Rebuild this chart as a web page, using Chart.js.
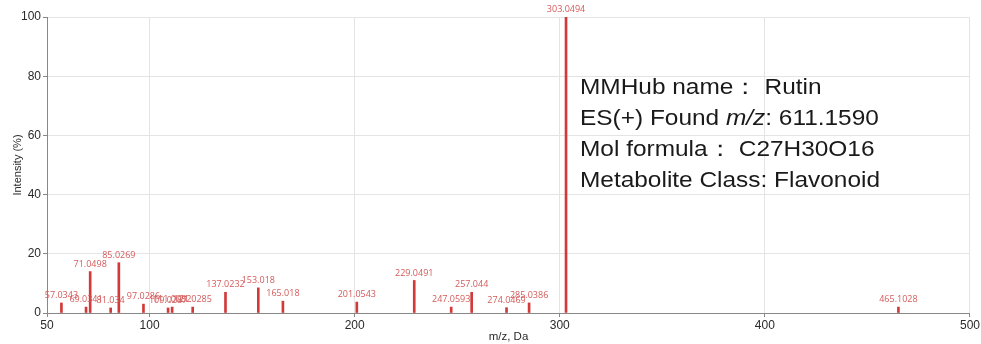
<!DOCTYPE html>
<html>
<head>
<meta charset="utf-8">
<script src="https://cdn.jsdelivr.net/npm/chart.js@4/dist/chart.umd.min.js"></script>
<style>
  html, body { margin: 0; padding: 0; background: #fff; }
  #wrap { width: 981px; height: 344px; }
</style>
</head>
<body>
<div id="wrap"><canvas id="spectrum" width="981" height="344"></canvas></div>
<script>
// Peak m/z values (labels) and relative intensities (%)
const peakLabels = ['57.0343', '69.0341', '71.0498', '81.034', '85.0269', '97.0286', '109.0287', '111.0082',
  '121.0285', '137.0232', '153.018', '165.018', '201.0543', '229.0491', '247.0593', '257.044',
  '274.0469', '285.0386', '303.0494', '465.1028'];
const peakIntensity = [3.4, 2.0, 14.0, 1.7, 17.0, 3.0, 1.7, 2.0,
  2.0, 7.0, 8.5, 4.0, 3.7, 11.0, 2.0, 7.0,
  1.8, 3.4, 100, 2.0];
const xTicks = [50, 100, 200, 300, 400, 500];
const yTicks = [0, 20, 40, 60, 80, 100];
const infoLines = ['MMHub name\uFF1A Rutin', 'ES(+) Found |m/z|: 611.1590', 'Mol formula\uFF1A C27H30O16', 'Metabolite Class: Flavonoid'];

const peakColor = 'rgb(210, 58, 58)';
const labelColor = 'rgb(212, 90, 90)';

// Draw m/z label over each stick
const peakLabelPlugin = {
  id: 'peakLabels',
  afterDatasetsDraw(chart) {
    const ctx = chart.ctx;
    const meta = chart.getDatasetMeta(0);
    ctx.save();
    ctx.font = '9px "Open Sans", "Liberation Sans", sans-serif';
    ctx.fillStyle = labelColor;
    ctx.textAlign = 'center';
    ctx.textBaseline = 'bottom';
    meta.data.forEach((bar, i) => {
      ctx.fillText(peakLabels[i], bar.x, bar.y - 3);
    });
    ctx.restore();
  }
};

// Compound info block in the plot area
const infoPlugin = {
  id: 'info',
  afterDraw(chart) {
    const ctx = chart.ctx;
    const area = chart.chartArea;
    let x0 = area.left + 533;
    let y = area.top + 71;
    ctx.save();
    ctx.fillStyle = '#1a1a1a';
    ctx.textBaseline = 'middle';
    infoLines.forEach(line => {
      // parts between | | are italic
      const parts = line.split('|');
      let x = x0;
      parts.forEach((p, k) => {
        ctx.font = (k % 2 ? 'italic ' : '') + '22px "Liberation Sans", Arial, sans-serif';
        ctx.save();
        ctx.translate(x, y);
        ctx.scale(1.11, 1);
        ctx.fillText(p, 0, 0);
        ctx.restore();
        x += ctx.measureText(p).width * 1.11;
      });
      y += 31;
    });
    ctx.restore();
  }
};

const tickFont = { family: '"Liberation Sans", Arial, sans-serif', size: 12 };

new Chart(document.getElementById('spectrum'), {
  type: 'bar',
  data: {
    datasets: [{
      data: peakLabels.map((m, i) => ({ x: parseFloat(m), y: peakIntensity[i] })),
      backgroundColor: peakColor,
      borderWidth: 0,
      barThickness: 2,
      grouped: false
    }]
  },
  options: {
    responsive: false,
    animation: false,
    layout: { padding: { top: 17, right: 11, left: 11, bottom: 0 } },
    plugins: { legend: { display: false }, tooltip: { enabled: false } },
    scales: {
      x: {
        type: 'linear',
        min: 50,
        max: 500,
        offset: false,
        afterBuildTicks: axis => { axis.ticks = xTicks.map(v => ({ value: v })); },
        afterFit: axis => { axis.height = 31; },
        ticks: { color: '#2a2a2a', font: tickFont, padding: 1, maxRotation: 0 },
        grid: { offset: false, color: '#e4e4e4', tickLength: 4, tickColor: '#888' },
        border: { color: '#888', width: 1 },
        title: { display: true, text: 'm/z, Da', color: '#2a2a2a', font: { family: tickFont.family, size: 11.5 }, padding: { top: 2, bottom: 0 } }
      },
      y: {
        min: 0,
        max: 100,
        afterBuildTicks: axis => { axis.ticks = yTicks.map(v => ({ value: v })); },
        afterFit: axis => { axis.width = 36; },
        ticks: { color: '#2a2a2a', font: tickFont, padding: 2 },
        grid: { color: '#e4e4e4', tickLength: 4, tickColor: '#888' },
        border: { color: '#888', width: 1 },
        title: { display: true, text: 'Intensity (%)', color: '#2a2a2a', font: { family: tickFont.family, size: 11 }, padding: 0 }
      }
    }
  },
  plugins: [peakLabelPlugin, infoPlugin]
});
</script>
</body>
</html>
